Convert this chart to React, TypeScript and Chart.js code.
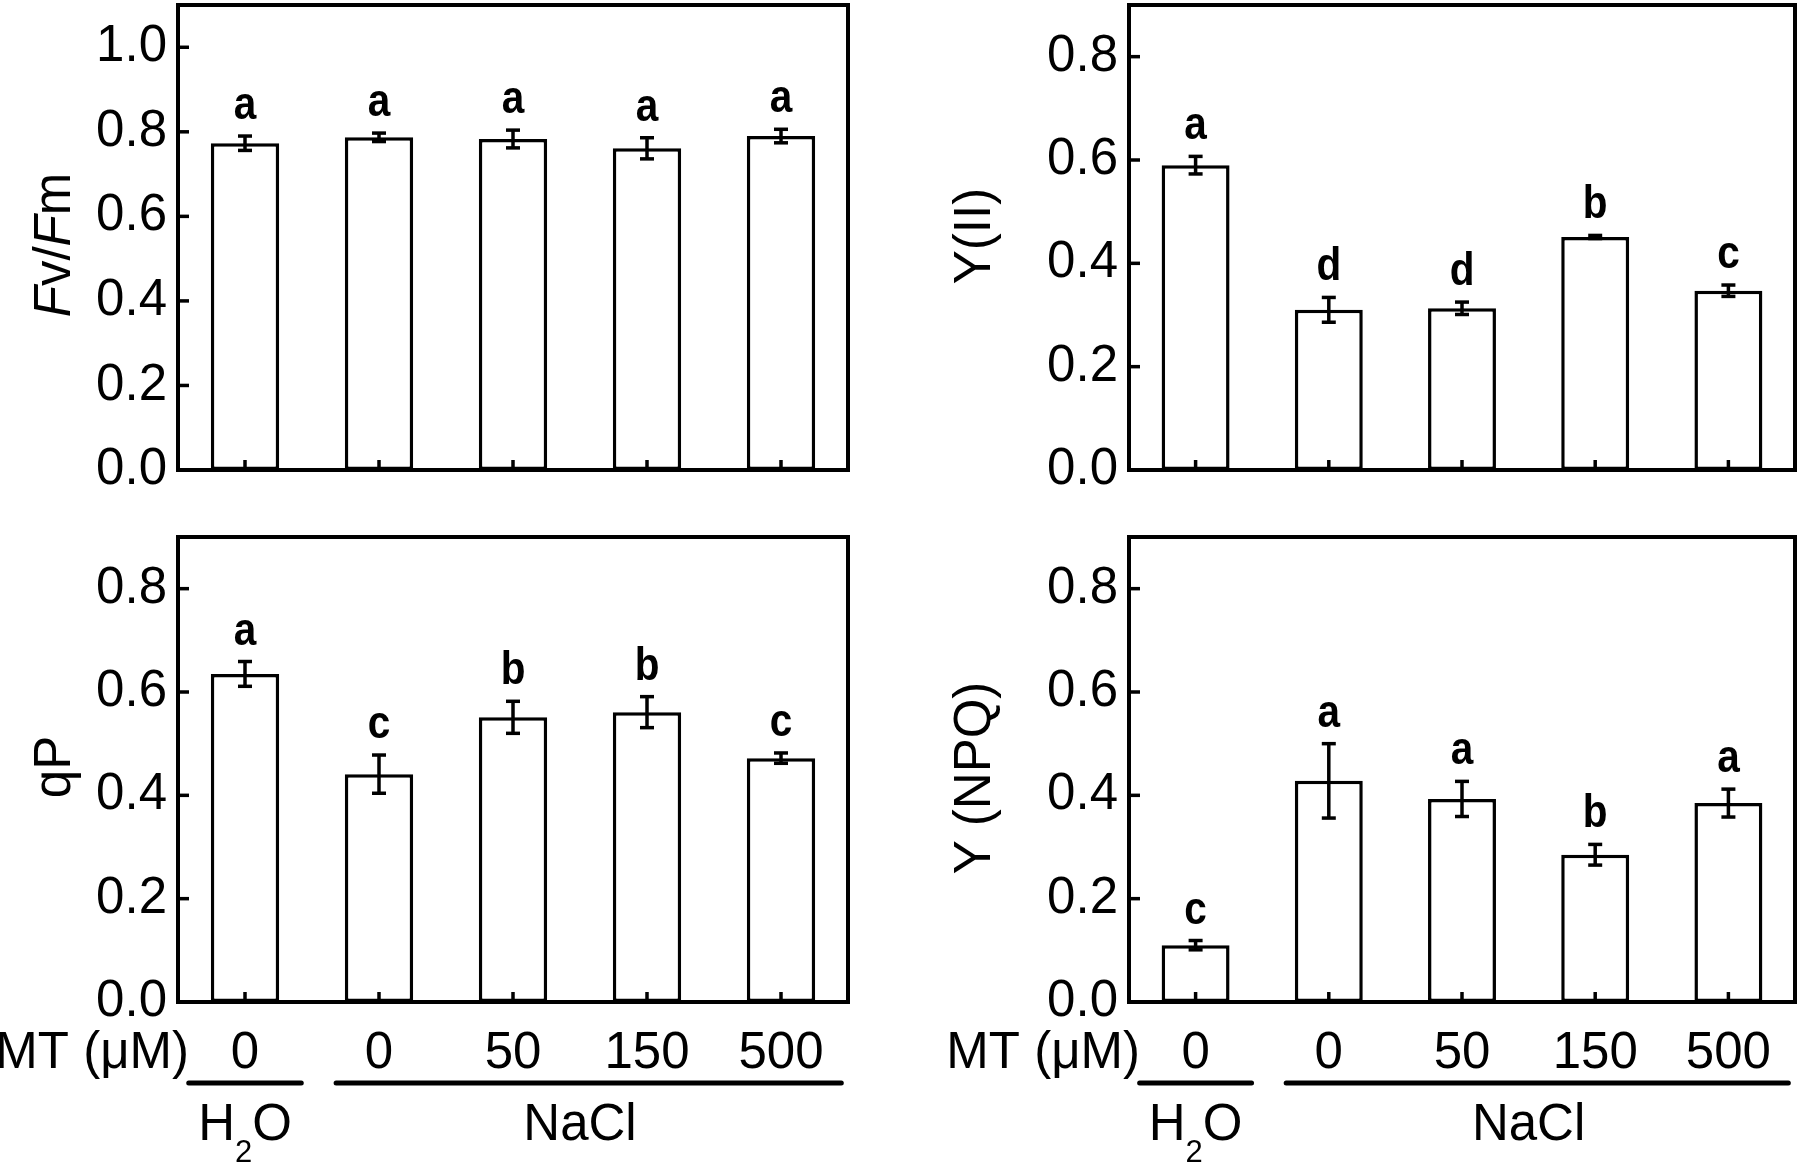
import React, { useEffect, useRef } from "react";
import { Chart, registerables } from "chart.js";

Chart.register(...registerables);

const FONT = "'Liberation Sans', Arial, Helvetica, sans-serif";

// ---- data ----
const categories = ["H2O 0", "NaCl 0", "NaCl 50", "NaCl 150", "NaCl 500"];
const mtLabels = ["0", "0", "50", "150", "500"];
const groupLabels = ["H2O", "NaCl"];
const axisPrefix = "MT (μM)";

const fvfmMean = [0.773, 0.787, 0.783, 0.761, 0.79];
const fvfmErr = [0.017, 0.01, 0.021, 0.025, 0.016];
const fvfmLetters = ["a", "a", "a", "a", "a"];

const yiiMean = [0.59, 0.31, 0.313, 0.451, 0.347];
const yiiErr = [0.017, 0.024, 0.012, 0.003, 0.011];
const yiiLetters = ["a", "d", "d", "b", "c"];

const qpMean = [0.635, 0.441, 0.551, 0.561, 0.472];
const qpErr = [0.024, 0.037, 0.031, 0.03, 0.01];
const qpLetters = ["a", "c", "b", "b", "c"];

const ynpqMean = [0.11, 0.428, 0.393, 0.285, 0.385];
const ynpqErr = [0.009, 0.072, 0.034, 0.02, 0.027];
const ynpqLetters = ["c", "a", "a", "b", "a"];

const fvfmMax = 1.1;
const otherMax = 0.9;
const tickStep = 0.2;

type Part = [string, boolean];

type PanelSpec = {
  key: string;
  mean: number[];
  err: number[];
  letters: string[];
  max: number;
  left: number;
  top: number;
  w: number;
  h: number;
  yAxisW: number;
  padTop: number;
  padRight: number;
  xAxisH: number;
  title: Part[];
  titleX: number;
  titleY: number;
  showGroups: boolean;
};

const panels: PanelSpec[] = [
  {
    key: "fvfm", mean: fvfmMean, err: fvfmErr, letters: fvfmLetters, max: fvfmMax,
    left: 0, top: 0, w: 900, h: 520, yAxisW: 178, padTop: 5, padRight: 52, xAxisH: 50,
    title: [["F", true], ["v/", false], ["F", true], ["m", false]], titleX: 70, titleY: 245, showGroups: false,
  },
  {
    key: "yii", mean: yiiMean, err: yiiErr, letters: yiiLetters, max: otherMax,
    left: 900, top: 0, w: 900, h: 520, yAxisW: 229, padTop: 5, padRight: 5, xAxisH: 50,
    title: [["Y(II)", false]], titleX: 90, titleY: 236, showGroups: false,
  },
  {
    key: "qp", mean: qpMean, err: qpErr, letters: qpLetters, max: otherMax,
    left: 0, top: 520, w: 900, h: 645, yAxisW: 178, padTop: 17, padRight: 52, xAxisH: 163,
    title: [["qP", false]], titleX: 70, titleY: 247, showGroups: true,
  },
  {
    key: "ynpq", mean: ynpqMean, err: ynpqErr, letters: ynpqLetters, max: otherMax,
    left: 900, top: 520, w: 900, h: 645, yAxisW: 229, padTop: 17, padRight: 5, xAxisH: 163,
    title: [["Y (NPQ)", false]], titleX: 90, titleY: 258, showGroups: true,
  },
];

function line(ctx: CanvasRenderingContext2D, x1: number, y1: number, x2: number, y2: number) {
  ctx.beginPath();
  ctx.moveTo(x1, y1);
  ctx.lineTo(x2, y2);
  ctx.stroke();
}

function decorPlugin(p: PanelSpec) {
  return {
    id: "decor_" + p.key,
    afterDraw(chart: any) {
      const ctx: CanvasRenderingContext2D = chart.ctx;
      const { left, right, top, bottom } = chart.chartArea;
      const xs = chart.scales.x;
      const ys = chart.scales.y;
      ctx.save();
      ctx.strokeStyle = "#000";
      ctx.fillStyle = "#000";

      // frame
      ctx.lineWidth = 4;
      ctx.lineCap = "square";
      ctx.strokeRect(left, top, right - left, bottom - top);

      // inward ticks
      ctx.lineWidth = 3.5;
      ctx.lineCap = "butt";
      ys.ticks.forEach((t: any) => {
        const py = ys.getPixelForValue(t.value);
        line(ctx, left, py, left + 11, py);
      });
      xs.ticks.forEach((_t: any, i: number) => {
        const px = xs.getPixelForTick(i);
        line(ctx, px, bottom, px, bottom - 10);
      });

      // error bars
      ctx.lineWidth = 3.5;
      p.mean.forEach((m, i) => {
        const e = p.err[i];
        const px = xs.getPixelForValue(i);
        const yHi = ys.getPixelForValue(m + e);
        const yLo = ys.getPixelForValue(m - e);
        line(ctx, px, yHi, px, yLo);
        line(ctx, px - 7, yHi, px + 7, yHi);
        line(ctx, px - 7, yLo, px + 7, yLo);
      });

      // significance letters
      ctx.font = `bold 45px ${FONT}`;
      ctx.textAlign = "center";
      ctx.textBaseline = "alphabetic";
      p.letters.forEach((l, i) => {
        const px = xs.getPixelForValue(i);
        const py = ys.getPixelForValue(p.mean[i] + p.err[i]) - 17;
        ctx.save();
        ctx.translate(px, py);
        ctx.scale(0.9, 1.04);
        ctx.fillText(l, 0, 0);
        ctx.restore();
      });

      // y-axis title (rotated)
      ctx.save();
      ctx.translate(p.titleX, p.titleY);
      ctx.rotate(-Math.PI / 2);
      ctx.textAlign = "left";
      ctx.textBaseline = "alphabetic";
      let total = 0;
      p.title.forEach(([txt, it]) => {
        ctx.font = `${it ? "italic " : ""}51px ${FONT}`;
        total += ctx.measureText(txt).width;
      });
      let cx = -total / 2;
      p.title.forEach(([txt, it]) => {
        ctx.font = `${it ? "italic " : ""}51px ${FONT}`;
        ctx.fillText(txt, cx, 0);
        cx += ctx.measureText(txt).width;
      });
      ctx.restore();

      if (p.showGroups) {
        const labelBase = bottom + 66;
        const lineY = bottom + 81;
        const groupBase = bottom + 138;
        const catW = xs.getPixelForValue(1) - xs.getPixelForValue(0);

        ctx.font = `51px ${FONT}`;
        ctx.textAlign = "right";
        ctx.fillText(axisPrefix, left + 11, labelBase);

        ctx.textAlign = "center";
        mtLabels.forEach((lab, i) => {
          ctx.fillText(lab, xs.getPixelForValue(i), labelBase);
        });

        ctx.lineWidth = 5;
        ctx.lineCap = "round";
        const c0 = xs.getPixelForValue(0);
        const c1 = xs.getPixelForValue(1);
        const c4 = xs.getPixelForValue(4);
        line(ctx, c0 - 0.42 * catW, lineY, c0 + 0.42 * catW, lineY);
        line(ctx, c1 - 0.32 * catW, lineY, c4 + 0.45 * catW, lineY);

        // H2O with subscript
        const big = `51px ${FONT}`;
        const small = `31px ${FONT}`;
        ctx.textAlign = "left";
        ctx.font = big;
        const wH = ctx.measureText("H").width;
        const wO = ctx.measureText("O").width;
        ctx.font = small;
        const w2 = ctx.measureText("2").width;
        const tot = wH + w2 + wO;
        let gx = c0 - tot / 2;
        ctx.font = big;
        ctx.fillText(groupLabels[0].charAt(0), gx, groupBase);
        gx += wH;
        ctx.font = small;
        ctx.fillText(groupLabels[0].charAt(1), gx, groupBase + 22);
        gx += w2;
        ctx.font = big;
        ctx.fillText(groupLabels[0].charAt(2), gx, groupBase);

        ctx.textAlign = "center";
        ctx.fillText(groupLabels[1], (c1 + c4) / 2, groupBase);
      }
      ctx.restore();
    },
  };
}

function makeConfig(p: PanelSpec): any {
  return {
    type: "bar",
    data: {
      labels: categories,
      datasets: [
        {
          data: p.mean,
          backgroundColor: "#ffffff",
          borderColor: "#000000",
          borderWidth: 3.5,
          borderSkipped: false,
          barPercentage: 0.51,
          categoryPercentage: 1,
        },
      ],
    },
    options: {
      animation: false,
      responsive: false,
      maintainAspectRatio: false,
      devicePixelRatio: 1,
      layout: { padding: { top: p.padTop, right: p.padRight, left: 0, bottom: 0 } },
      plugins: {
        legend: { display: false },
        tooltip: { enabled: false },
        title: { display: false },
      },
      scales: {
        x: {
          type: "category",
          offset: true,
          grid: { display: false, drawTicks: false },
          border: { display: false },
          ticks: { display: false },
          afterFit: (s: any) => {
            s.height = p.xAxisH;
            s.paddingLeft = 0;
            s.paddingRight = 0;
          },
        },
        y: {
          type: "linear",
          min: 0,
          max: p.max,
          grid: { display: false, drawTicks: false },
          border: { display: false },
          ticks: {
            stepSize: tickStep,
            includeBounds: false,
            padding: 11,
            color: "#000",
            font: { family: FONT, size: 51 },
            callback: (v: any) => Number(v).toFixed(1),
          },
          afterFit: (s: any) => {
            s.width = p.yAxisW;
            s.paddingTop = 0;
            s.paddingBottom = 0;
          },
        },
      },
    },
    plugins: [decorPlugin(p)],
  };
}

function PanelChart({ p }: { p: PanelSpec }) {
  const ref = useRef<HTMLCanvasElement>(null);
  useEffect(() => {
    const chart = new Chart(ref.current as HTMLCanvasElement, makeConfig(p));
    return () => chart.destroy();
  }, []);
  return (
    <canvas
      ref={ref}
      width={p.w}
      height={p.h}
      style={{ position: "absolute", left: p.left, top: p.top, width: p.w, height: p.h }}
    />
  );
}

export default function App() {
  return (
    <div
      style={{
        position: "absolute",
        left: 0,
        top: 0,
        width: 1800,
        height: 1165,
        background: "#ffffff",
        overflow: "hidden",
      }}
    >
      {panels.map((p) => (
        <PanelChart key={p.key} p={p} />
      ))}
    </div>
  );
}
